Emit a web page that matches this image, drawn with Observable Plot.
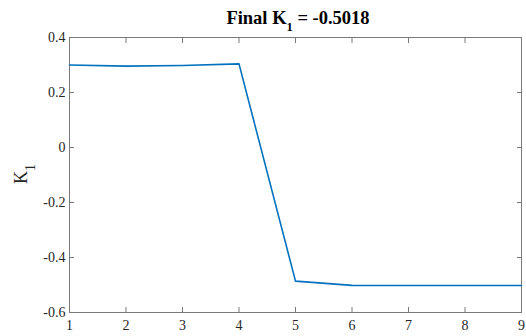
<!DOCTYPE html>
<html>
<head>
<meta charset="utf-8">
<script src="https://cdn.jsdelivr.net/npm/d3@7"></script>
<script src="https://cdn.jsdelivr.net/npm/@observablehq/plot@0.6"></script>
<style>
  html, body { margin: 0; padding: 0; background: #fff; }
  #chart svg { display: block; }
  #chart svg, #chart svg text, #chart svg tspan {
    font-family: "Liberation Serif", "Times New Roman", Times, "DejaVu Serif", serif !important;
  }
</style>
</head>
<body>
<div id="chart"></div>
<script>
// Gain K1 at each iteration
const iterations = [1, 2, 3, 4, 5, 6, 7, 8, 9];
const k1Values = [0.300, 0.296, 0.298, 0.304, -0.486, -0.5015, -0.5018, -0.5018, -0.5018];

// Axis ticks
const xTicks = [1, 2, 3, 4, 5, 6, 7, 8, 9];
const yTicks = [-0.6, -0.4, -0.2, 0, 0.2, 0.4];

const data = iterations.map((it, i) => ({iteration: it, k1: k1Values[i]}));

const W = 526, H = 336;
const axisGray = "#7a7a7a";
const textDark = "#262626";
const serif = "Liberation Serif, Times New Roman, Times, DejaVu Serif, serif";
const fmt = d => String(d);
const blank = () => "";

const chart = Plot.plot({
  width: W,
  height: H,
  marginLeft: 69,
  marginRight: 5,
  marginTop: 37,
  marginBottom: 24,
  style: {fontFamily: serif, fontSize: "14px", background: "#fff", overflow: "visible"},
  x: {domain: [1, 9]},
  y: {domain: [-0.6, 0.4]},
  marks: [
    Plot.frame({stroke: axisGray, strokeWidth: 1}),
    // inward ticks on all four sides, labels on bottom and left
    Plot.axisX({anchor: "bottom", ticks: xTicks, tickSize: -5, tickPadding: 13, tickFormat: fmt,
                label: null, stroke: axisGray, fill: textDark, fontSize: 14}),
    Plot.axisX({anchor: "top", ticks: xTicks, tickSize: -5, tickFormat: blank, label: null, stroke: axisGray}),
    Plot.axisY({anchor: "left", ticks: yTicks, tickSize: -5, tickPadding: 9, tickFormat: fmt,
                label: null, stroke: axisGray, fill: textDark, fontSize: 14}),
    Plot.axisY({anchor: "right", ticks: yTicks, tickSize: -5, tickFormat: blank, label: null, stroke: axisGray}),
    Plot.line(data, {x: "iteration", y: "k1", stroke: "#0072BD", strokeWidth: 1.6})
  ]
});

// Title and y-axis label with subscripts
const svg = d3.select(chart);
const finalValue = k1Values[k1Values.length - 1].toFixed(4);

const title = svg.append("text")
  .attr("x", 298)
  .attr("y", 23.5)
  .attr("text-anchor", "middle")
  .attr("font-weight", "bold")
  .attr("font-size", 18.5)
  .attr("fill", "#000");
title.append("tspan").text("Final K");
title.append("tspan").attr("dy", 7).attr("font-size", 12.5).text("1");
title.append("tspan").attr("dy", -7).text(" = " + finalValue);

const ylab = svg.append("text")
  .attr("transform", "translate(27,174) rotate(-90)")
  .attr("text-anchor", "middle")
  .attr("font-size", 18)
  .attr("fill", textDark);
ylab.append("tspan").text("K");
ylab.append("tspan").attr("dy", 8).attr("font-size", 14).text("1");

document.getElementById("chart").appendChild(chart);
</script>
</body>
</html>
